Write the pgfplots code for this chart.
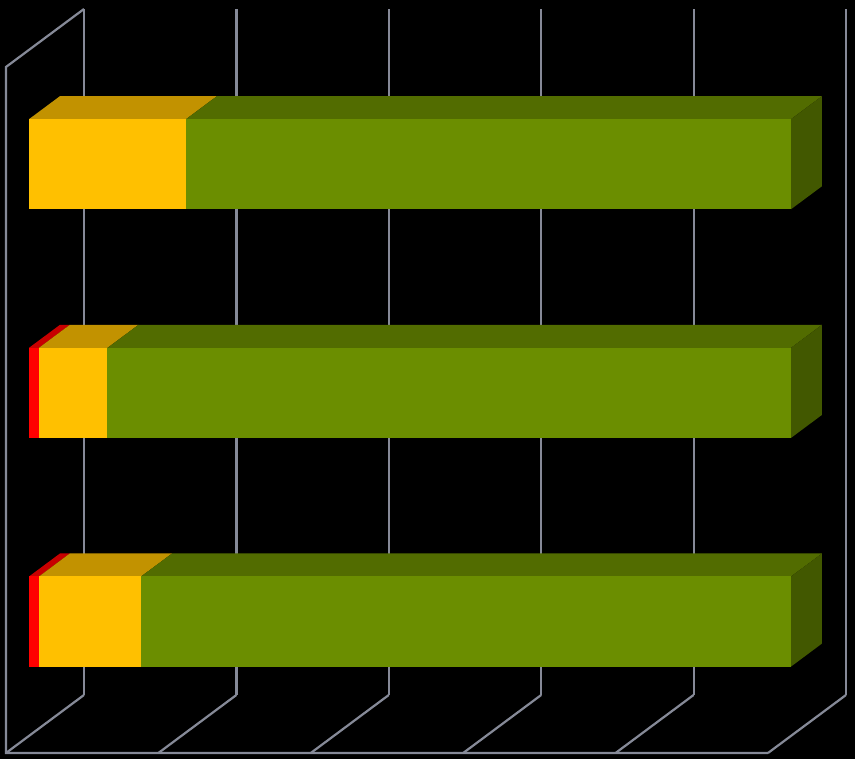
\documentclass[border=0pt]{standalone}
\usepackage{pgfplots}
\pgfplotsset{compat=1.18}
\definecolor{gridc}{RGB}{134,138,152}
\definecolor{gF}{RGB}{107,142,0}
\definecolor{gT}{RGB}{82,108,0}
\definecolor{gS}{RGB}{66,88,0}
\definecolor{yF}{RGB}{255,192,0}
\definecolor{yT}{RGB}{194,146,0}
\definecolor{rF}{RGB}{255,0,0}
\definecolor{rT}{RGB}{200,0,0}
\begin{document}
\begin{tikzpicture}
\fill[black] (0,0) rectangle (855pt,759pt);
\begin{axis}[
  x={(7.62pt,0pt)}, y={(0pt,228.67pt)}, z={(78pt,58pt)},
  xmin=0, xmax=100, ymin=0, ymax=3, zmin=0, zmax=1,
  hide axis, clip=false,
  at={(6pt,6pt)}, anchor=origin,
  every axis plot/.append style={mark=none},
]
% frame and grid
\addplot3[gridc, line width=2.2pt] coordinates {(0,0,1)(0,3,1)};
\addplot3[gridc, line width=2.2pt] coordinates {(20,0,1)(20,3,1)};
\addplot3[gridc, line width=2.2pt] coordinates {(40,0,1)(40,3,1)};
\addplot3[gridc, line width=2.2pt] coordinates {(60,0,1)(60,3,1)};
\addplot3[gridc, line width=2.2pt] coordinates {(80,0,1)(80,3,1)};
\addplot3[gridc, line width=2.2pt] coordinates {(100,0,1)(100,3,1)};
\addplot3[gridc, line width=2.2pt] coordinates {(0,0,1)(0,0,0)};
\addplot3[gridc, line width=2.2pt] coordinates {(20,0,1)(20,0,0)};
\addplot3[gridc, line width=2.2pt] coordinates {(40,0,1)(40,0,0)};
\addplot3[gridc, line width=2.2pt] coordinates {(60,0,1)(60,0,0)};
\addplot3[gridc, line width=2.2pt] coordinates {(80,0,1)(80,0,0)};
\addplot3[gridc, line width=2.2pt] coordinates {(100,0,1)(100,0,0)};
\addplot3[gridc, line width=2.2pt] coordinates {(0,3,1)(0,3,0)(0,0,0)(100,0,0)};
% Bar 1 (top): yellow 20.6, green 79.4
\addplot3[fill=yT, draw=none] coordinates {(0,2.697,0.295)(20.6,2.697,0.295)(20.6,2.697,0.692)(0,2.697,0.692)};
\addplot3[fill=gT, draw=none] coordinates {(20.6,2.697,0.295)(100,2.697,0.295)(100,2.697,0.692)(20.6,2.697,0.692)};
\addplot3[fill=gS, draw=none] coordinates {(100,2.303,0.295)(100,2.303,0.692)(100,2.697,0.692)(100,2.697,0.295)};
\addplot3[fill=yF, draw=none] coordinates {(0,2.303,0.295)(20.6,2.303,0.295)(20.6,2.697,0.295)(0,2.697,0.295)};
\addplot3[fill=gF, draw=none] coordinates {(20.6,2.303,0.295)(100,2.303,0.295)(100,2.697,0.295)(20.6,2.697,0.295)};
% Bar 2 (middle): red 1.3, yellow 9.0, green 89.7
\addplot3[fill=rT, draw=none] coordinates {(0,1.697,0.295)(1.3,1.697,0.295)(1.3,1.697,0.692)(0,1.697,0.692)};
\addplot3[fill=yT, draw=none] coordinates {(1.3,1.697,0.295)(10.3,1.697,0.295)(10.3,1.697,0.692)(1.3,1.697,0.692)};
\addplot3[fill=gT, draw=none] coordinates {(10.3,1.697,0.295)(100,1.697,0.295)(100,1.697,0.692)(10.3,1.697,0.692)};
\addplot3[fill=gS, draw=none] coordinates {(100,1.303,0.295)(100,1.303,0.692)(100,1.697,0.692)(100,1.697,0.295)};
\addplot3[fill=rF, draw=none] coordinates {(0,1.303,0.295)(1.3,1.303,0.295)(1.3,1.697,0.295)(0,1.697,0.295)};
\addplot3[fill=yF, draw=none] coordinates {(1.3,1.303,0.295)(10.3,1.303,0.295)(10.3,1.697,0.295)(1.3,1.697,0.295)};
\addplot3[fill=gF, draw=none] coordinates {(10.3,1.303,0.295)(100,1.303,0.295)(100,1.697,0.295)(10.3,1.697,0.295)};
% Bar 3 (bottom): red 1.3, yellow 13.4, green 85.3
\addplot3[fill=rT, draw=none] coordinates {(0,0.697,0.295)(1.3,0.697,0.295)(1.3,0.697,0.692)(0,0.697,0.692)};
\addplot3[fill=yT, draw=none] coordinates {(1.3,0.697,0.295)(14.7,0.697,0.295)(14.7,0.697,0.692)(1.3,0.697,0.692)};
\addplot3[fill=gT, draw=none] coordinates {(14.7,0.697,0.295)(100,0.697,0.295)(100,0.697,0.692)(14.7,0.697,0.692)};
\addplot3[fill=gS, draw=none] coordinates {(100,0.303,0.295)(100,0.303,0.692)(100,0.697,0.692)(100,0.697,0.295)};
\addplot3[fill=rF, draw=none] coordinates {(0,0.303,0.295)(1.3,0.303,0.295)(1.3,0.697,0.295)(0,0.697,0.295)};
\addplot3[fill=yF, draw=none] coordinates {(1.3,0.303,0.295)(14.7,0.303,0.295)(14.7,0.697,0.295)(1.3,0.697,0.295)};
\addplot3[fill=gF, draw=none] coordinates {(14.7,0.303,0.295)(100,0.303,0.295)(100,0.697,0.295)(14.7,0.697,0.295)};
\end{axis}
\pgfresetboundingbox
\path (0,0) rectangle (855pt,759pt);
\end{tikzpicture}
\end{document}
